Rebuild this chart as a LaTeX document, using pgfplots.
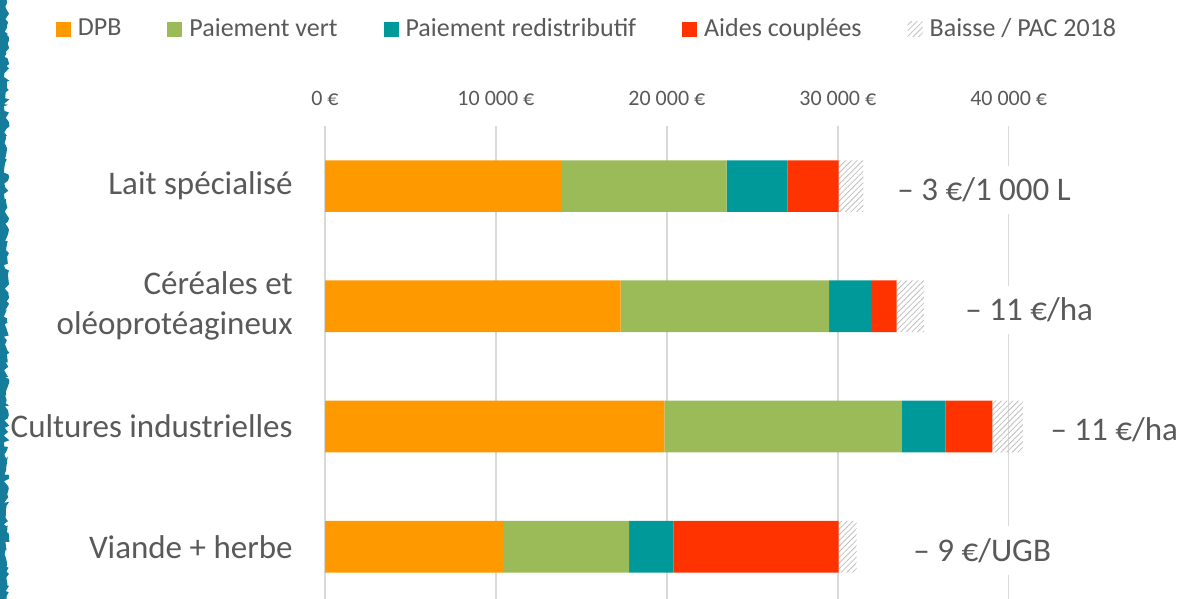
\documentclass[border=0pt]{standalone}
\usepackage{fontspec}
\setmainfont{Carlito}
\usepackage{pgfplots}
\usepackage{pgfplotstable}
\pgfplotsset{compat=1.18}
\usetikzlibrary{patterns,patterns.meta,decorations.pathmorphing}
\definecolor{dpb}{HTML}{FF9900}
\definecolor{vert}{HTML}{9BBB59}
\definecolor{redis}{HTML}{009999}
\definecolor{coup}{HTML}{FF3300}
\definecolor{txt}{HTML}{595959}
\definecolor{gridc}{HTML}{D9D9D9}
\definecolor{hatch}{HTML}{BFBFBF}
\definecolor{edgec}{RGB}{22,124,156}

\pgfplotstableread{
y dpb vert redis coup baisse
0 13800 9700 3550 3000 1450
1 17300 12200 2450 1500 1600
2 19850 13900 2550 2750 1800
3 10400 7400 2600 9650 1050
}\data

\begin{document}
\begin{tikzpicture}
\useasboundingbox (0,0) rectangle (591.5pt,-299.5pt);
\pgfmathsetseed{7}
\fill[edgec] (0,0) -- (3.3pt,0) decorate[decoration={random steps,segment length=1.5pt,amplitude=1.4pt}]{ -- (3.3pt,-299.5pt)} -- (0,-299.5pt) -- cycle;
\begin{axis}[
  at={(162.5pt,-299.5pt)}, anchor=south west,
  scale only axis, width=341.85pt, height=236.5pt,
  xbar stacked, bar width=25.85pt,
  xmin=0, xmax=40000, ymin=-0.5, ymax=3.435, y dir=reverse,
  clip=false,
  scaled x ticks=false,
  axis line style={draw=none},
  major tick style={draw=none},
  xtick={0,10000,20000,30000,40000},
  xticklabels={0 €,10 000 €,20 000 €,30 000 €,40 000 €},
  xticklabel pos=upper,
  xmajorgrids, grid style={gridc, line width=0.75pt},
  ytick={0,1,2,3},
  yticklabels={Lait spécialisé,{Céréales et\\oléoprotéagineux},Cultures industrielles,Viande + herbe},
  yticklabel style={align=right, font=\fontsize{16.5}{20}\selectfont, text=txt, inner sep=0pt, xshift=-16pt},
  xticklabel style={font=\fontsize{11}{13}\selectfont, text=txt, anchor=base, inner sep=0pt, yshift=10.5pt},
  legend style={at={(-0.3942,1.205)}, anchor=west, draw=none, fill=none, inner sep=0pt,
    font=\fontsize{13}{15}\selectfont, text=txt, nodes={inner sep=0pt},
    /tikz/every odd column/.append style={column sep=3.5pt},
    /tikz/every even column/.append style={column sep=23pt}},
  legend columns=-1, legend cell align=left,
  legend image code/.code={\path[#1, draw=none] (0pt,-3.75pt) rectangle (7.5pt,3.75pt);},
]
\addplot[fill=dpb, draw=none] table[x=dpb, y=y]{\data};
\addplot[fill=vert, draw=none] table[x=vert, y=y]{\data};
\addplot[fill=redis, draw=none] table[x=redis, y=y]{\data};
\addplot[fill=coup, draw=none] table[x=coup, y=y]{\data};
\addplot[draw=none, pattern={Lines[angle=45, distance=2pt, line width=0.4pt]}, pattern color=hatch] table[x=baisse, y=y]{\data};
\legend{DPB,Paiement vert,Paiement redistributif,Aides couplées,Baisse / PAC 2018}
\tikzset{lab/.style={anchor=base west, fill=white, inner xsep=3pt, inner ysep=6pt, xshift=-3pt, text=txt, font=\fontsize{16.5}{20}\selectfont}}
\node[lab] at (axis cs:33470,0.12) {– 3 €/1 000 L};
\node[lab] at (axis cs:37449,1.12) {– 11 €/ha};
\node[lab] at (axis cs:42423,2.12) {– 11 €/ha};
\node[lab] at (axis cs:34406,3.12) {– 9 €/UGB};
\end{axis}
\end{tikzpicture}
\end{document}
